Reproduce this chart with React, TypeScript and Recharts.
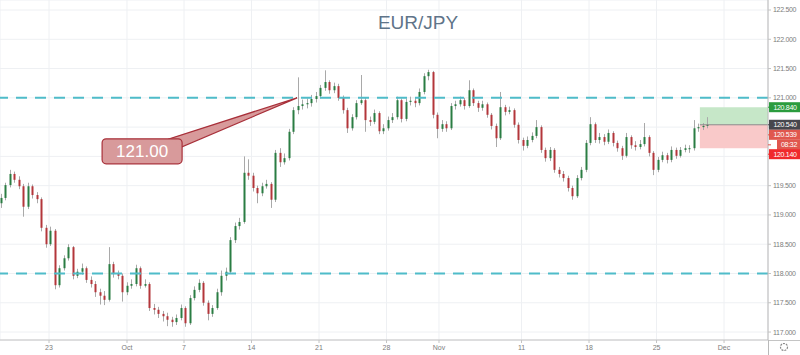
import React from "react";
import {
  Bar,
  CartesianGrid,
  ComposedChart,
  ReferenceArea,
  ReferenceDot,
  ReferenceLine,
  XAxis,
  YAxis,
} from "recharts";

// EUR/JPY, roughly three candles per trading day, Sep 18 -> Nov 29
const firstOpen = 119.2;

const closes = [
  119.29, 119.51, 119.7, 119.6, 119.49, 119.14, 119.49, 119.34, 119.27, 118.78,
  118.5, 118.73, 117.8, 118.09, 118.26, 118.45, 117.96, 118.03, 118.09, 117.89,
  117.82, 117.68, 117.62, 117.55, 118.16, 117.99, 117.96, 117.68, 117.79, 117.82,
  118.09, 117.79, 117.82, 117.41, 117.38, 117.31, 117.27, 117.21, 117.17, 117.24,
  117.41, 117.15, 117.58, 117.72, 117.84, 117.5, 117.31, 117.41, 117.68, 117.96,
  118.03, 118.57, 118.81, 118.88, 119.72, 119.67, 119.46, 119.37, 119.49, 119.53,
  119.26, 120.06, 119.9, 119.97, 120.42, 120.79, 120.86, 120.89, 120.91, 120.98,
  121.03, 121.17, 121.27, 121.13, 121.2, 121.0, 120.79, 120.48, 120.67, 120.91,
  120.96, 120.62, 120.59, 120.74, 120.43, 120.48, 120.62, 120.67, 120.96, 120.64,
  120.93, 120.95, 120.91, 121.1, 121.37, 121.44, 120.71, 120.47, 120.55, 120.48,
  120.86, 120.89, 120.96, 120.86, 121.13, 120.91, 120.83, 120.89, 120.71, 120.52,
  120.31, 120.84, 120.76, 120.79, 120.54, 120.28, 120.18, 120.28, 120.35, 120.5,
  120.11, 119.97, 120.11, 119.77, 119.7, 119.63, 119.46, 119.32, 119.63, 119.77,
  120.23, 120.55, 120.28, 120.33, 120.25, 120.4, 120.23, 120.14, 120.01, 120.33,
  120.19, 120.16, 120.21, 120.33, 120.06, 119.77, 119.94, 120.02, 119.94, 120.11,
  120.01, 120.11, 120.14, 120.14, 120.48, 120.5, 120.52, 120.54,
];

const highs = [
  119.36, 119.55, 119.77, 119.74, 119.66, 119.53, 119.55, 119.52, 119.39, 119.3,
  118.83, 118.8, 118.76, 118.14, 118.31, 118.5, 118.47, 118.08, 118.17, 118.12,
  117.95, 117.87, 117.74, 117.7, 118.45, 118.2, 118.05, 118.0, 117.85, 117.9,
  118.15, 118.12, 117.9, 117.85, 117.48, 117.43, 117.36, 117.33, 117.26, 117.3,
  117.47, 117.44, 117.63, 117.78, 117.9, 117.87, 117.54, 117.46, 117.74, 118.05,
  118.1, 118.62, 118.87, 118.95, 120.0, 119.95, 119.72, 119.5, 119.55, 119.6,
  119.56, 120.11, 120.14, 120.05, 120.47, 120.84, 121.35, 120.97, 120.99, 121.05,
  121.1, 121.22, 121.47, 121.3, 121.26, 121.24, 121.04, 120.83, 120.72, 120.96,
  121.39, 121.0, 120.68, 120.8, 120.77, 120.55, 120.68, 120.74, 121.02, 120.99,
  120.99, 121.02, 121.0, 121.16, 121.42, 121.48, 121.46, 120.75, 120.62, 120.6,
  120.91, 120.95, 121.02, 121.0, 121.3, 121.16, 120.95, 120.95, 120.92, 120.74,
  120.56, 121.1, 120.88, 120.85, 120.82, 120.58, 120.32, 120.34, 120.41, 120.62,
  120.53, 120.15, 120.16, 120.14, 119.82, 119.75, 119.67, 119.5, 119.68, 119.82,
  120.28, 120.67, 120.58, 120.4, 120.38, 120.46, 120.43, 120.27, 120.18, 120.4,
  120.36, 120.26, 120.28, 120.57, 120.36, 120.09, 119.99, 120.08, 120.06, 120.17,
  120.15, 120.16, 120.2, 120.19, 120.62, 120.56, 120.57, 120.67,
];

const lows = [
  119.12, 119.25, 119.47, 119.55, 119.44, 118.97, 119.1, 119.28, 119.2, 118.72,
  118.44, 118.47, 117.73, 117.76, 118.05, 118.22, 117.9, 117.92, 117.98, 117.84,
  117.76, 117.6, 117.47, 117.46, 117.52, 117.93, 117.9, 117.52, 117.63, 117.74,
  117.78, 117.74, 117.76, 117.36, 117.3, 117.24, 117.18, 117.1, 117.09, 117.12,
  117.2, 117.09, 117.12, 117.54, 117.68, 117.45, 117.2, 117.26, 117.38, 117.62,
  117.88, 117.99, 118.52, 118.75, 118.85, 119.6, 119.4, 119.2, 119.32, 119.45,
  119.12, 119.22, 119.82, 119.86, 119.93, 120.38, 120.72, 120.8, 120.82, 120.85,
  120.92, 120.99, 121.12, 121.07, 121.08, 120.95, 120.73, 120.4, 120.44, 120.63,
  120.88, 120.42, 120.52, 120.55, 120.38, 120.38, 120.44, 120.57, 120.63, 120.58,
  120.6, 120.87, 120.84, 120.87, 121.06, 121.3, 120.65, 120.31, 120.42, 120.42,
  120.45, 120.8, 120.85, 120.8, 120.83, 120.86, 120.76, 120.78, 120.66, 120.46,
  120.16, 120.28, 120.7, 120.72, 120.49, 120.22, 120.1, 120.14, 120.24, 120.31,
  120.06, 119.91, 119.92, 119.72, 119.64, 119.57, 119.4, 119.26, 119.29, 119.59,
  119.73, 120.19, 120.23, 120.22, 120.19, 120.21, 120.17, 120.08, 119.94, 119.98,
  120.13, 120.1, 120.12, 120.17, 120.0, 119.68, 119.73, 119.9, 119.88, 119.9,
  119.96, 119.98, 120.07, 120.06, 120.1, 120.42, 120.45, 120.48,
];

// x axis: positions (in candle index units) and labels
const dateTicks = [10.67, 28, 40.67, 55.67, 70.67, 85.67, 97.33, 115.67, 130.67, 145.67, 160.67];
const dateLabels = ["23", "Oct", "7", "14", "21", "28", "Nov", "11", "18", "25", "Dec"];

const priceTicks = [117, 117.5, 118, 118.5, 119, 119.5, 120, 120.5, 121, 121.5, 122, 122.5];
// these two scale labels sit under the position tags
const coveredTicks = [120, 120.5];
const levels = [121, 118];

// long position tool
const posStart = 155.3;
const entry = 120.54;
const target = 120.84;
const stop = 120.14;
const lastBid = 120.539;
const countdown = "08:32";

const calloutPrice = 121.0;
const calloutAt = 65.8;

const X_MIN = -0.22;
const X_MAX = 170.44;
const Y_MIN = 116.864;
const Y_MAX = 122.671;

const UP = "#2a7d43";
const DOWN = "#b3363b";
const WICK = "#a9a9a9";
const FONT = "'Liberation Sans', Arial, sans-serif";

const data = closes.map((c, i) => ({
  t: i,
  open: i === 0 ? firstOpen : closes[i - 1],
  close: c,
  high: highs[i],
  low: lows[i],
  range: [lows[i], highs[i]],
}));

const Candle = (props: any) => {
  const { x, width, payload } = props;
  let { y, height } = props;
  if (height < 0) {
    y = y + height;
    height = -height;
  }
  const { open, close, high, low } = payload;
  const k = height / (high - low);
  const cx = Math.round(x + width / 2) + 0.5;
  const top = y + (high - Math.max(open, close)) * k;
  const bot = y + (high - Math.min(open, close)) * k;
  return (
    <g>
      <line x1={cx} x2={cx} y1={y} y2={y + height} stroke={WICK} strokeWidth={1} />
      <rect
        x={cx - 1}
        y={top}
        width={2}
        height={Math.max(1, bot - top)}
        fill={close >= open ? UP : DOWN}
      />
    </g>
  );
};

const Callout = (props: any) => {
  const { cx, cy } = props;
  const bx = cx - 195;
  const by = cy + 41;
  const fill = "#d89a9b";
  const edge = "#a8303a";
  return (
    <g>
      <polygon
        points={`${cx - 128},${by} ${cx - 115},${by + 8} ${cx},${cy}`}
        fill={fill}
        stroke={edge}
        strokeWidth={1.2}
      />
      <rect x={bx} y={by} width={80} height={25} rx={4} fill={fill} stroke={edge} strokeWidth={1.2} />
      <polygon points={`${cx - 127},${by + 1} ${cx - 116},${by + 8} ${cx - 118},${by + 3}`} fill={fill} />
      <text
        x={bx + 40}
        y={by + 18}
        textAnchor="middle"
        fill="#ffffff"
        fontSize={17}
        fontFamily={FONT}
      >
        {calloutPrice.toFixed(2)}
      </text>
    </g>
  );
};

const axisTag = (text: string, bg: string, dy: number, inset = 0) => (props: any) => {
  const { cx, cy } = props;
  return (
    <g>
      <rect x={cx + 1 + inset} y={cy + dy - 5} width={31 - inset} height={10} fill={bg} />
      <line x1={cx} x2={cx + 3} y1={cy + dy} y2={cy + dy} stroke={bg} />
      <text
        x={cx + 17 + inset / 2}
        y={cy + dy + 2.5}
        textAnchor="middle"
        fill="#ffffff"
        fontSize={7}
        letterSpacing={-0.3}
        fontFamily={FONT}
      >
        {text}
      </text>
    </g>
  );
};

export default function App() {
  return (
    <div style={{ position: "absolute", left: 0, top: 0, width: 800, height: 355, background: "#fff" }}>
      <ComposedChart
        width={800}
        height={355}
        data={data}
        margin={{ top: 0, right: 0, bottom: 0, left: 0 }}
      >
        <CartesianGrid stroke="#eef0f3" />
        <XAxis
          dataKey="t"
          type="number"
          domain={[X_MIN, X_MAX]}
          allowDataOverflow
          ticks={dateTicks}
          tickFormatter={(v: number) => dateLabels[dateTicks.indexOf(v)] ?? ""}
          height={15}
          tickSize={3}
          tickMargin={2}
          tick={{ fontSize: 7, fill: "#7d7d7d", fontFamily: FONT }}
          axisLine={{ stroke: "#c4c4c4" }}
          tickLine={{ stroke: "#c4c4c4" }}
        />
        <YAxis
          orientation="right"
          type="number"
          domain={[Y_MIN, Y_MAX]}
          allowDataOverflow
          ticks={priceTicks}
          tickFormatter={(v: number) => (coveredTicks.includes(v) ? "" : v.toFixed(3))}
          width={32}
          tickSize={3}
          tickMargin={2}
          tick={{ fontSize: 7, fill: "#7d7d7d", fontFamily: FONT, letterSpacing: -0.3 }}
          axisLine={{ stroke: "#b9b9b9" }}
          tickLine={{ stroke: "#c4c4c4" }}
        />
        <ReferenceArea x1={posStart} x2={X_MAX} y1={entry} y2={target} fill="#c6e7c8" fillOpacity={1} ifOverflow="visible" />
        <ReferenceArea x1={posStart} x2={X_MAX} y1={stop} y2={entry} fill="#f9c9c9" fillOpacity={1} ifOverflow="visible" />
        <ReferenceLine
          segment={[{ x: posStart, y: entry }, { x: X_MAX, y: entry }]}
          stroke="#8a8a8a"
          ifOverflow="visible"
        />
        {levels.map((lv) => (
          <ReferenceLine key={lv} y={lv} stroke="#4fbcc9" strokeWidth={2} strokeDasharray="11 8" />
        ))}
        <Bar dataKey="range" shape={Candle} barSize={2} isAnimationActive={false} />
        <ReferenceDot x={calloutAt} y={calloutPrice} shape={Callout} ifOverflow="visible" />
        <ReferenceDot x={X_MAX} y={target} shape={axisTag(target.toFixed(3), "#2b9c3e", 0)} ifOverflow="visible" />
        <ReferenceDot x={X_MAX} y={entry} shape={axisTag(entry.toFixed(3), "#46474d", 0)} ifOverflow="visible" />
        <ReferenceDot x={X_MAX} y={lastBid} shape={axisTag(lastBid.toFixed(3), "#e0574e", 10)} ifOverflow="visible" />
        <ReferenceDot x={X_MAX} y={lastBid} shape={axisTag(countdown, "#e0574e", 20, 8)} ifOverflow="visible" />
        <ReferenceDot x={X_MAX} y={stop} shape={axisTag(stop.toFixed(3), "#f0292c", 6)} ifOverflow="visible" />
      </ComposedChart>
      <svg
        width={800}
        height={355}
        style={{ position: "absolute", left: 0, top: 0, pointerEvents: "none" }}
      >
        <text
          x={418}
          y={29}
          textAnchor="middle"
          fill="#5f7489"
          fontSize={19}
          fontFamily={FONT}
        >
          EUR/JPY
        </text>
        <line x1={768} x2={800} y1={340.5} y2={340.5} stroke="#c4c4c4" />
        <line x1={768.5} x2={768.5} y1={340} y2={355} stroke="#b9b9b9" />
        <circle cx={784} cy={347} r={3.5} fill="none" stroke="#8a8a8a" strokeWidth={1.2} strokeDasharray="2 1" />
      </svg>
    </div>
  );
}
